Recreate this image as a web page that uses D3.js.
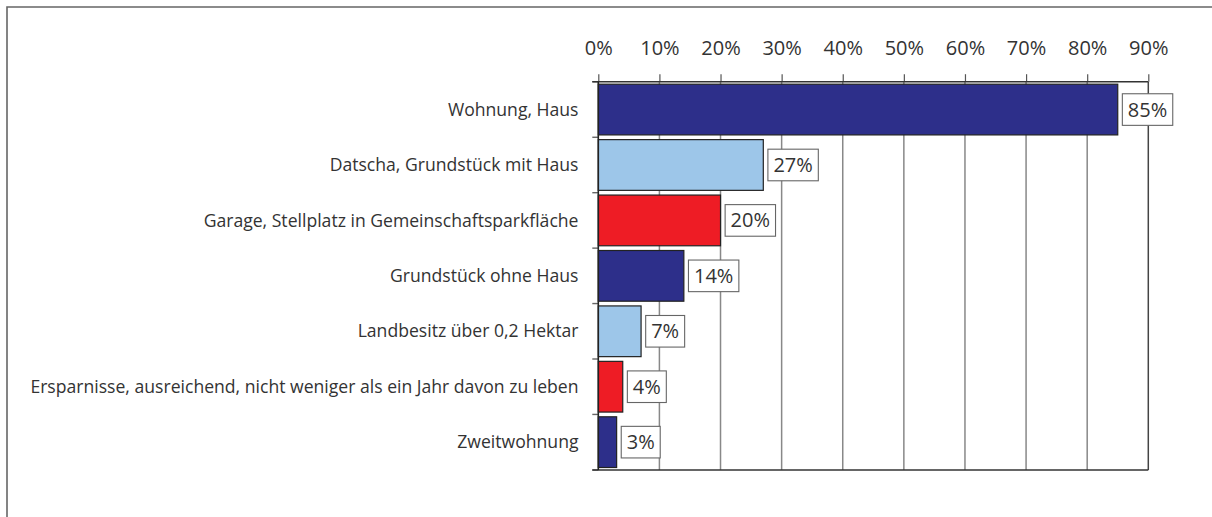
<!DOCTYPE html>
<html>
<head>
<meta charset="utf-8">
<script src="https://cdn.jsdelivr.net/npm/d3@7"></script>
<style>
  body { margin: 0; background: #fff; }
  text { font-family: "Open Sans", "Liberation Sans", Arial, sans-serif; fill: #333; }
</style>
</head>
<body>
<div id="chart"></div>
<script>
/* Data */
const categories = [
  "Wohnung, Haus",
  "Datscha, Grundstück mit Haus",
  "Garage, Stellplatz in Gemeinschaftsparkfläche",
  "Grundstück ohne Haus",
  "Landbesitz über 0,2 Hektar",
  "Ersparnisse, ausreichend, nicht weniger als ein Jahr davon zu leben",
  "Zweitwohnung"
]
const values = [85, 27, 20, 14, 7, 4, 3]
const tickValues = [0, 10, 20, 30, 40, 50, 60, 70, 80, 90]
const barColors = ["#2d2f8a", "#9dc6e9", "#ee1c25", "#2d2f8a", "#9dc6e9", "#ee1c25", "#2d2f8a"]

/* Layout constants */
const WIDTH = 1212
const HEIGHT = 517
const X0 = 598.3
const X1 = 1148.3
const Y0 = 81.7
const Y1 = 470
const TICK_LEN = 6
const LABEL_SIZE = 17.6
const NUM_SIZE = 20

const svg = d3.select("#chart")
              .append("svg")
              .attr("width", WIDTH)
              .attr("height", HEIGHT);

/* outer frame, only top and left are visible */
svg.append("path")
   .attr("d", `M7,${HEIGHT + 5} V7 H${WIDTH + 5}`)
   .attr("fill", "none")
   .attr("stroke", "#666")
   .attr("stroke-width", 1.6);

const xScale = d3.scaleLinear().domain([0, 90]).range([X0, X1]);
const yScale = d3.scaleBand()
                 .domain(categories)
                 .range([Y0, Y1])
                 .paddingInner(0.085)
                 .paddingOuter(0.045);

/* vertical gridlines */
svg.selectAll(".grid")
   .data(tickValues.slice(1))
   .enter()
   .append("line")
   .attr("class", "grid")
   .attr("x1", (d) => xScale(d))
   .attr("x2", (d) => xScale(d))
   .attr("y1", Y0)
   .attr("y2", Y1)
   .attr("stroke", (d) => d === 90 ? "#444" : "#888")
   .attr("stroke-width", 1.5);

/* top axis with ticks and labels */
const xAxis = d3.axisTop(xScale)
                .tickValues(tickValues)
                .tickSize(7.5)
                .tickPadding(19)
                .tickFormat((d) => d + "%");
const gx = svg.append("g")
              .attr("transform", `translate(0, ${Y0})`)
              .call(xAxis);
gx.select(".domain").remove();
gx.selectAll(".tick line").attr("stroke", "#555").attr("stroke-width", 1.2);
gx.selectAll(".tick text")
  .attr("font-size", NUM_SIZE)
  .attr("font-family", "Open Sans, Liberation Sans, Arial, sans-serif")
  .attr("fill", "#333");

/* band boundaries: small ticks left of the axis */
const step = yScale.step();
const boundaries = d3.range(categories.length + 1).map((i) => i === 0 ? Y0 : i === categories.length ? Y1 : yScale(categories[i]) - step * yScale.paddingInner() / 2);
svg.selectAll(".bound")
   .data(boundaries)
   .enter()
   .append("line")
   .attr("class", "bound")
   .attr("x1", X0 - TICK_LEN)
   .attr("x2", X0)
   .attr("y1", (d) => d)
   .attr("y2", (d) => d)
   .attr("stroke", "#666")
   .attr("stroke-width", 1.4);

/* top and bottom frame lines of the plot */
svg.append("line")
   .attr("x1", X0 - TICK_LEN).attr("x2", X1)
   .attr("y1", Y0).attr("y2", Y0)
   .attr("stroke", "#333").attr("stroke-width", 1.5);
svg.append("line")
   .attr("x1", X0 - TICK_LEN).attr("x2", X1)
   .attr("y1", Y1).attr("y2", Y1)
   .attr("stroke", "#333").attr("stroke-width", 1.5);

/* bars */
svg.selectAll(".bar")
   .data(values)
   .enter()
   .append("rect")
   .attr("class", "bar")
   .attr("x", xScale(0))
   .attr("y", (d, i) => yScale(categories[i]))
   .attr("width", (d) => xScale(d) - xScale(0))
   .attr("height", yScale.bandwidth())
   .attr("fill", (d, i) => barColors[i])
   .attr("stroke", "#222")
   .attr("stroke-width", 1.2);

/* y axis line */
svg.append("line")
   .attr("x1", X0).attr("x2", X0)
   .attr("y1", Y0).attr("y2", Y1)
   .attr("stroke", "#222").attr("stroke-width", 1.6);

/* category labels */
svg.selectAll(".cat")
   .data(categories)
   .enter()
   .append("text")
   .attr("class", "cat")
   .attr("x", 578.5)
   .attr("y", (d) => yScale(d) + yScale.bandwidth() / 2)
   .attr("dy", "0.35em")
   .attr("text-anchor", "end")
   .attr("font-size", LABEL_SIZE)
   .text((d) => d);

/* value labels in boxes */
const labels = svg.selectAll(".val")
                  .data(values)
                  .enter()
                  .append("g")
                  .attr("class", "val")
                  .attr("transform", (d, i) => `translate(${xScale(d) + 4.6}, ${yScale(categories[i]) + yScale.bandwidth() / 2})`);
labels.append("rect")
      .attr("fill", "#fff")
      .attr("stroke", "#666")
      .attr("stroke-width", 1.1);
const valText = labels.append("text")
                      .attr("dy", "0.35em")
                      .attr("font-size", NUM_SIZE)
                      .text((d) => d + "%");
valText.each(function () {
  const w = this.getComputedTextLength();
  d3.select(this).attr("x", 5.5);
  d3.select(this.parentNode).select("rect")
    .attr("x", 0)
    .attr("y", -15.8)
    .attr("width", w + 11)
    .attr("height", 31.6);
});
</script>
</body>
</html>
